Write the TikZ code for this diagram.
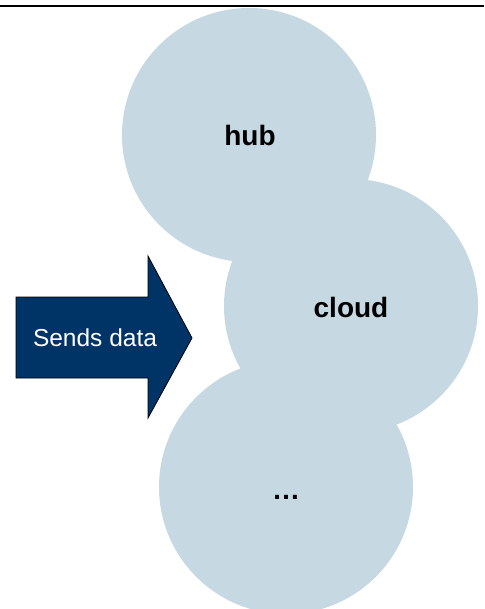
\documentclass[tikz,border=0pt]{standalone}
\usepackage{fontspec}
\setmainfont{Liberation Sans}
\definecolor{bubble}{RGB}{198,217,227}
\definecolor{navy}{RGB}{0,51,102}
\begin{document}
\begin{tikzpicture}[x=1pt,y=-1pt,
  bubblestyle/.style={circle,fill=bubble,minimum size=254pt,inner sep=0pt},
  bubbletext/.style={font=\fontsize{28}{32}\selectfont\bfseries,text=black},
  arrowtext/.style={font=\fontsize{24.5}{28}\selectfont,text=white}]
\useasboundingbox (0,0) rectangle (484,609);
\begin{scope}
\clip (0,0) rectangle (484,609);
\node[bubblestyle] (hubc) at (249,135) {};
\node[bubblestyle] (cloudc) at (351,306) {};
\node[bubblestyle] (dotsc) at (286,487) {};
\end{scope}
\node[bubbletext] (hub) at (250,135) {hub};
\node[bubbletext] (cloud) at (351,307) {cloud};
\node[bubbletext,anchor=base] (dots) at (286,499) {\ldots};
\draw[line width=0.8pt,fill=navy,line join=miter]
  (16,297) -- (148,297) -- (148,256) -- (192,338) -- (148,418) -- (148,378) -- (16,378) -- cycle;
\node[arrowtext] (send) at (95,338) {Sends data};
\coordinate (lineL) at (0,6);
\coordinate (lineR) at (484,6);
\draw[line width=2.2pt] (lineL) -- (lineR);
\end{tikzpicture}
\end{document}
